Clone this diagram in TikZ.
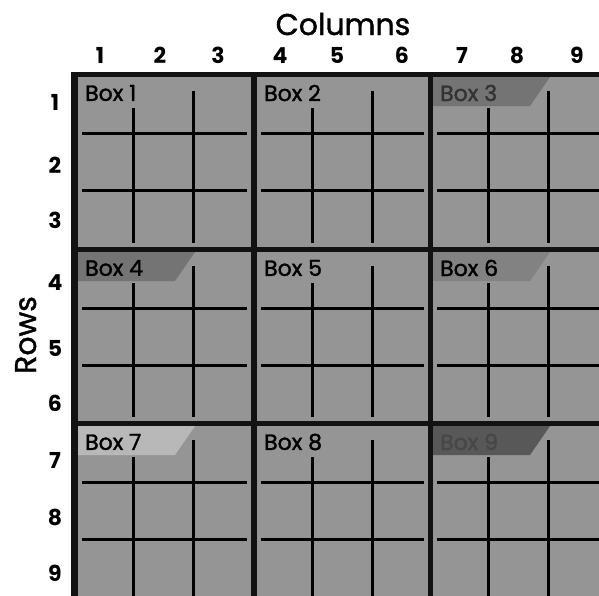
\documentclass[tikz,border=0pt]{standalone}
\usepackage{fontspec}
\setmainfont{Poppins}
\newfontfamily\heavyfont{Poppins}[FakeBold=1.6]
\newfontfamily\titlefont{Poppins}[FakeBold=1.3]
\definecolor{cellgray}{HTML}{959595}
\definecolor{tablight}{HTML}{B8B8B8}
\definecolor{tabmid}{HTML}{828282}
\definecolor{tabdark}{HTML}{747474}
\definecolor{tabdeep}{HTML}{585858}
\begin{document}
\begin{tikzpicture}[x=1pt,y=-1pt,
  gridline/.style={black,line width=3pt},
  boxlabel/.style={anchor=west,inner sep=0pt,font=\heavyfont\fontsize{22}{22}\selectfont},
  axisnum/.style={inner sep=0pt,font=\fontsize{22}{22}\selectfont\bfseries},
  axistitle/.style={inner sep=0pt,font=\titlefont\fontsize{30}{30}\selectfont}]
\useasboundingbox (0,0) rectangle (599,595);
\fill[white] (0,0) rectangle (599,595);
\begin{scope}
\clip (0,0) rectangle (599,595);
% black frame
\fill[black!93] (71,72) rectangle (610,610);
% boxes
\foreach \l/\r in {78/251,257/428,433/610}{
  \foreach \t/\b in {77/247,252/421,426/600}{
    \fill[cellgray] (\l,\t) rectangle (\r,\b);
  }
}
% tabs
\foreach \l/\t/\c in {433/77/tabdark,78/252/tabdark,433/252/tabmid,78/426/tablight,433/426/tabdeep}{
  \fill[\c] (\l,\t) -- ++(117,0) -- ++(-20,29) -- (\l,\t+29) -- cycle;
}
% inner lines
\foreach \l/\r in {78/251,257/428,433/610}{
  \foreach \t/\b in {77/247,252/421,426/600}{
    \draw[gridline] (\l+4,\t+56) -- (\r-4,\t+56);
    \draw[gridline] (\l+4,\t+113) -- (\r-4,\t+113);
    \draw[gridline] (\l+55,\t+31) -- (\l+55,\b-4);
    \draw[gridline] (\l+115,\t+14) -- (\l+115,\b-4);
  }
}
% box labels
\node[boxlabel] (box1) at (85,93) {Box 1};
\node[boxlabel] (box2) at (264,93) {Box 2};
\node[boxlabel,text=black!80] (box3) at (440,93) {Box 3};
\node[boxlabel] (box4) at (85,268) {Box 4};
\node[boxlabel] (box5) at (264,268) {Box 5};
\node[boxlabel] (box6) at (440,268) {Box 6};
\node[boxlabel] (box7) at (85,442) {Box 7};
\node[boxlabel] (box8) at (264,442) {Box 8};
\node[boxlabel,text=black!72] (box9) at (440,442) {Box 9};
\end{scope}
% axis titles
\node[axistitle,anchor=base] (colhdr) at (343,35) {Columns};
\node[axistitle,anchor=base,rotate=90] (rowhdr) at (36,335) {Rows};
% column numbers
\foreach \n/\x in {1/100,2/160,3/218,4/280,5/337,6/402,7/462,8/517,9/577}{
  \node[axisnum,anchor=base] (c\n) at (\x,63) {\n};
}
% row numbers
\foreach \n/\y in {1/102,2/165,3/220,4/283,5/348,6/403,7/460,8/517,9/573}{
  \node[axisnum] (r\n) at (55,\y) {\n};
}
\end{tikzpicture}
\end{document}
